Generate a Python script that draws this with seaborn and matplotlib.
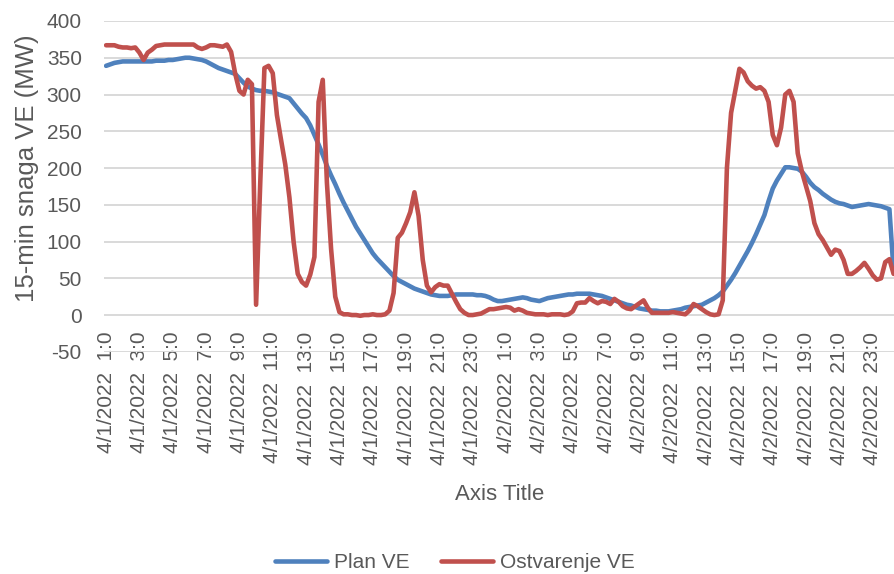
import numpy as np
import pandas as pd
import seaborn as sns
from matplotlib import pyplot as plt

sns.set_style("white")
plt.rcParams['font.family'] = ['Liberation Sans', 'DejaVu Sans']
plt.rcParams['axes.unicode_minus'] = False

# 15-min values, starting 4/1/2022 1:00
plan_ve = [
    339, 341, 343, 344, 345, 345, 345, 345, 345, 345,
    345, 345, 346, 346, 346, 347, 347, 348, 349, 350,
    350, 349, 348, 347, 345, 342, 339, 336, 334, 332,
    330, 328, 322, 316, 311, 308, 306, 305, 305, 304,
    303, 301, 299, 297, 295, 288, 281, 274, 268, 258,
    245, 232, 218, 203, 190, 178, 165, 153, 142, 131,
    120, 111, 102, 93, 84, 77, 71, 65, 59, 53,
    48, 45, 42, 39, 36, 34, 32, 30, 28, 27,
    26, 26, 26, 27, 28, 28, 28, 28, 28, 27,
    27, 26, 24, 21, 19, 19, 20, 21, 22, 23,
    24, 23, 21, 20, 19, 21, 23, 24, 25, 26,
    27, 28, 28, 29, 29, 29, 29, 28, 27, 26,
    24, 22, 20, 18, 16, 14, 13, 11, 9, 8,
    7, 6, 6, 5, 5, 5, 6, 7, 8, 10,
    11, 12, 13, 14, 17, 20, 23, 27, 32, 40,
    48, 57, 67, 77, 87, 98, 110, 123, 136, 155,
    172, 183, 192, 201, 201, 200, 199, 195, 188, 180,
    174, 170, 165, 161, 157, 154, 152, 151, 149, 147,
    148, 149, 150, 151, 150, 149, 148, 146, 144, 60,
]
ostvarenje_ve = [
    367, 367, 367, 365, 364, 364, 363, 364, 357, 347,
    357, 361, 366, 367, 368, 368, 368, 368, 368, 368,
    368, 368, 364, 362, 364, 367, 367, 366, 365, 368,
    358, 328, 305, 300, 320, 314, 14, 180, 336, 339,
    329, 272, 238, 205, 160, 100, 56, 45, 40, 55,
    79, 290, 320, 180, 90, 25, 4, 1, 1, 0,
    0, -1, 0, 0, 1, 0, 0, 1, 6, 30,
    105, 112, 125, 140, 167, 135, 75, 40, 31, 38,
    42, 40, 40, 29, 18, 8, 3, 0, 0, 1,
    2, 5, 8, 8, 9, 10, 11, 10, 6, 8,
    6, 3, 2, 1, 1, 1, 0, 1, 1, 1,
    0, 1, 5, 16, 17, 17, 23, 19, 16, 19,
    18, 15, 22, 18, 12, 9, 8, 12, 16, 20,
    10, 3, 3, 3, 3, 3, 4, 3, 2, 1,
    6, 15, 12, 8, 4, 1, 0, 1, 20, 200,
    275, 305, 335, 330, 318, 312, 308, 310, 305, 290,
    245, 231, 255, 300, 305, 290, 220, 195, 175, 155,
    125, 110, 102, 92, 82, 89, 87, 75, 56, 56,
    60, 65, 71, 63, 54, 48, 50, 72, 76, 56,
]
tick_labels = [
    "4/1/2022  1:0", "4/1/2022  3:0", "4/1/2022  5:0", "4/1/2022  7:0",
    "4/1/2022  9:0", "4/1/2022  11:0", "4/1/2022  13:0", "4/1/2022  15:0",
    "4/1/2022  17:0", "4/1/2022  19:0", "4/1/2022  21:0", "4/1/2022  23:0",
    "4/2/2022  1:0", "4/2/2022  3:0", "4/2/2022  5:0", "4/2/2022  7:0",
    "4/2/2022  9:0", "4/2/2022  11:0", "4/2/2022  13:0", "4/2/2022  15:0",
    "4/2/2022  17:0", "4/2/2022  19:0", "4/2/2022  21:0", "4/2/2022  23:0",
]

df = pd.DataFrame({'idx': np.arange(len(plan_ve)),
                   'Plan VE': plan_ve,
                   'Ostvarenje VE': ostvarenje_ve})

txt = '#595959'
fig = plt.figure(figsize=(8.94, 5.74), dpi=100)
ax = fig.add_axes([104/894, 1 - 351.8/574, 790/894, 330.8/574])

sns.lineplot(data=df, x='idx', y='Plan VE', color='#4F81BD', linewidth=3.3,
             ax=ax, label='Plan VE', legend=False)
sns.lineplot(data=df, x='idx', y='Ostvarenje VE', color='#C0504D', linewidth=3.3,
             ax=ax, label='Ostvarenje VE', legend=False)

ax.set_ylim(-50, 400)
ax.set_xlim(-0.5, 189.1)
ax.set_yticks(np.arange(-50, 401, 50))
ax.yaxis.grid(True, color='#d9d9d9', linewidth=1.4)
ax.set_axisbelow(True)
for s in ['top', 'right', 'left']:
    ax.spines[s].set_visible(False)
ax.spines['bottom'].set_position(('data', 0))
ax.spines['bottom'].set_visible(False)

ax.set_xticks(np.arange(0, len(plan_ve), 8)[:len(tick_labels)])
ax.set_xticklabels(tick_labels, rotation=90, va='top', ha='center')
ax.tick_params(axis='x', length=0, pad=12, labelsize=15, labelcolor=txt)
ax.tick_params(axis='y', length=0, pad=16, labelsize=15, labelcolor=txt)

ax.set_ylabel('15-min snaga VE (MW)', fontsize=18.5, color=txt)
ax.yaxis.label.set_va('center')
ax.yaxis.set_label_coords(-0.097, 0.556)
ax.set_xlabel('Axis Title', fontsize=16, color=txt)
ax.xaxis.label.set_va('center')
ax.xaxis.set_label_coords(0.501, -0.43)

h, l = ax.get_legend_handles_labels()
leg = fig.legend(h, l, loc='center', bbox_to_anchor=(455/894, 1 - 563/574), ncol=2,
                 frameon=False, fontsize=15, handlelength=2.5, handletextpad=0.35,
                 columnspacing=1.5)
for t in leg.get_texts():
    t.set_color(txt)

fig.savefig('out.png', dpi=100)
